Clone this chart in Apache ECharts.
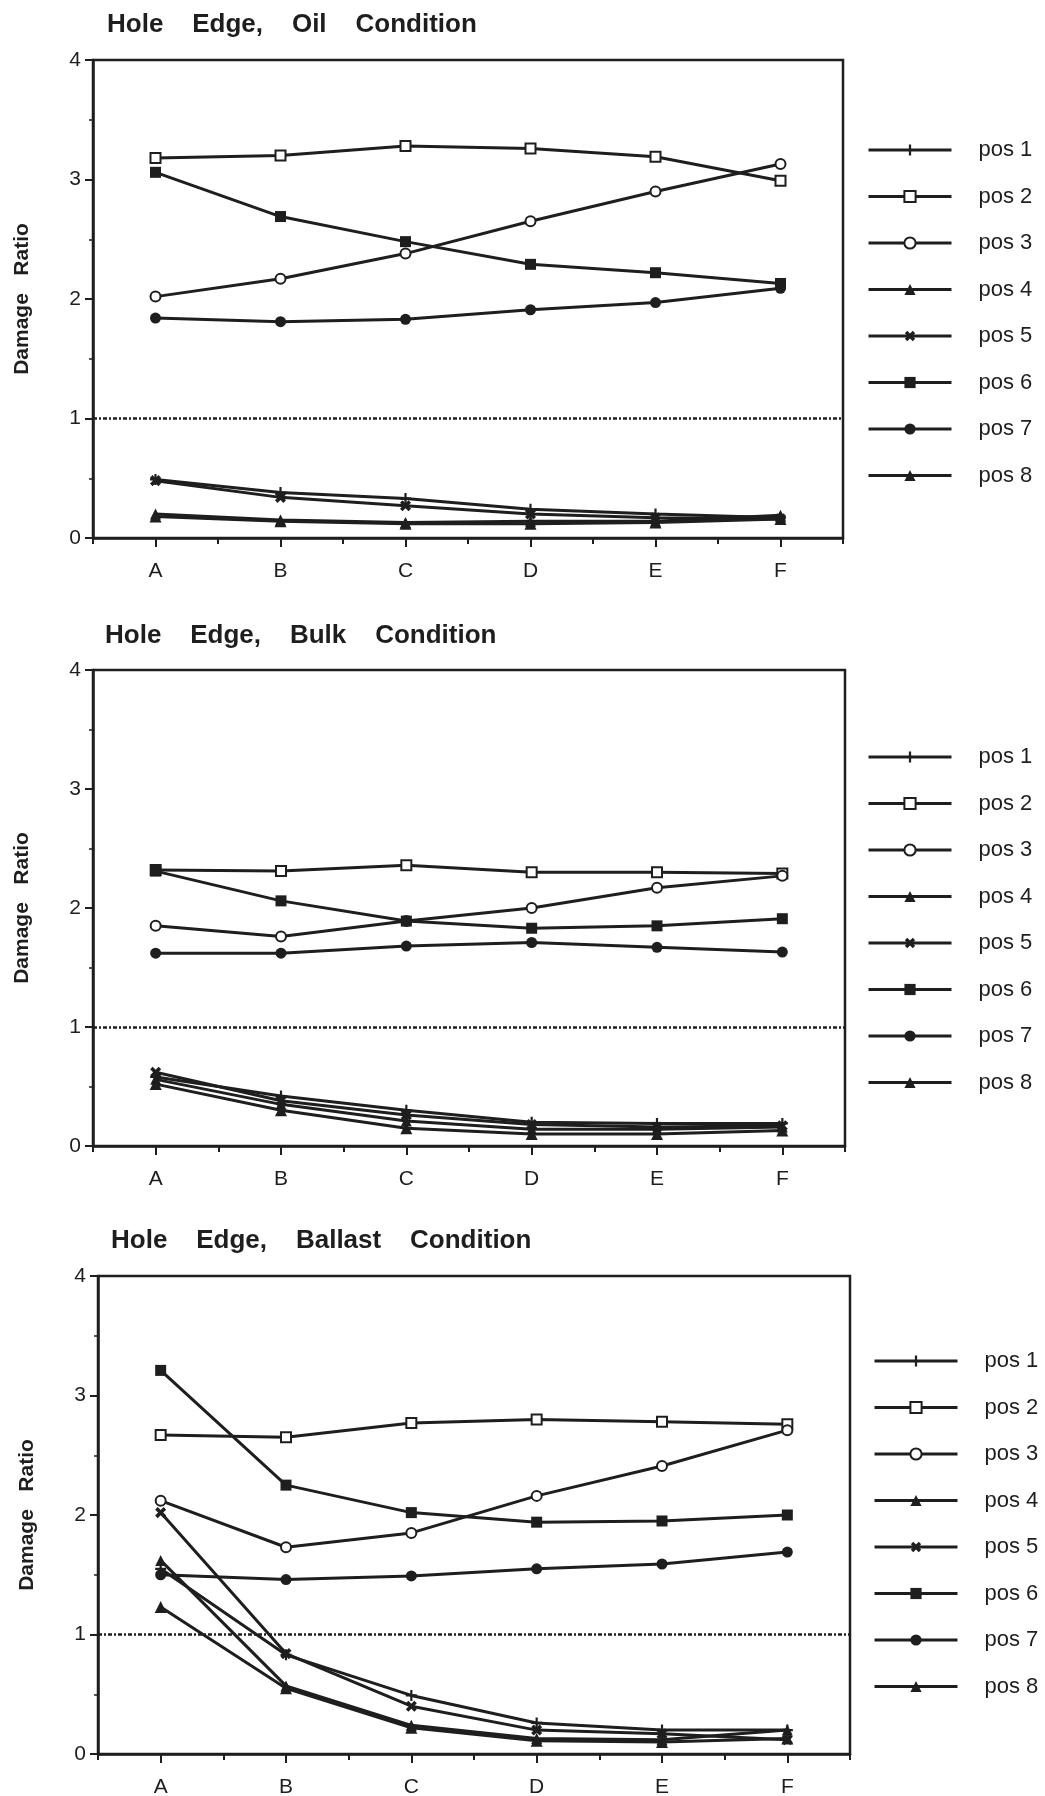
<!DOCTYPE html>
<html>
<head>
<meta charset="utf-8">
<title>Hole Edge Damage Ratio</title>
<script src="https://cdn.jsdelivr.net/npm/echarts@6/dist/echarts.min.js"></script>
<style>
  html, body { margin: 0; padding: 0; background: #fff; }
  #chart { width: 1045px; height: 1796px; }
</style>
</head>
<body>
<div id="chart"></div>
<script>
// --- data ---
const categories = ["A", "B", "C", "D", "E", "F"];
const seriesNames = ["pos 1", "pos 2", "pos 3", "pos 4", "pos 5", "pos 6", "pos 7", "pos 8"];
const yTicks = [0, 1, 2, 3, 4];
const thresholdValue = 1;

const oilValues = [
  [0.49, 0.38, 0.33, 0.24, 0.20, 0.17],
  [3.18, 3.20, 3.28, 3.26, 3.19, 2.99],
  [2.02, 2.17, 2.38, 2.65, 2.90, 3.13],
  [0.20, 0.15, 0.13, 0.14, 0.14, 0.19],
  [0.48, 0.34, 0.27, 0.20, 0.17, 0.16],
  [3.06, 2.69, 2.48, 2.29, 2.22, 2.13],
  [1.84, 1.81, 1.83, 1.91, 1.97, 2.09],
  [0.18, 0.14, 0.12, 0.12, 0.13, 0.16],
];
const bulkValues = [
  [0.58, 0.42, 0.30, 0.20, 0.19, 0.19],
  [2.32, 2.31, 2.36, 2.30, 2.30, 2.29],
  [1.85, 1.76, 1.89, 2.00, 2.17, 2.27],
  [0.56, 0.35, 0.21, 0.14, 0.14, 0.16],
  [0.62, 0.38, 0.26, 0.18, 0.16, 0.17],
  [2.31, 2.06, 1.89, 1.83, 1.85, 1.91],
  [1.62, 1.62, 1.68, 1.71, 1.67, 1.63],
  [0.52, 0.30, 0.15, 0.10, 0.10, 0.13],
];
const ballastValues = [
  [1.55, 0.83, 0.49, 0.26, 0.20, 0.20],
  [2.67, 2.65, 2.77, 2.80, 2.78, 2.76],
  [2.12, 1.73, 1.85, 2.16, 2.41, 2.71],
  [1.62, 0.57, 0.24, 0.13, 0.12, 0.20],
  [2.02, 0.84, 0.40, 0.20, 0.17, 0.12],
  [3.21, 2.25, 2.02, 1.94, 1.95, 2.00],
  [1.50, 1.46, 1.49, 1.55, 1.59, 1.69],
  [1.23, 0.55, 0.22, 0.11, 0.10, 0.13],
];
const panelTitles = [
  "Hole    Edge,    Oil    Condition",
  "Hole    Edge,    Bulk    Condition",
  "Hole    Edge,    Ballast    Condition",
];

// --- layout / style ---
const ink = "#1e1e1e";
const font = "'Liberation Sans', Arial, Helvetica, sans-serif";
const plusPath = "path://M4,0L6,0L6,4L10,4L10,6L6,6L6,10L4,10L4,6L0,6L0,4L4,4Z";
const crossPath = "path://M3.5,0L6.5,0L6.5,3.5L10,3.5L10,6.5L6.5,6.5L6.5,10L3.5,10L3.5,6.5L0,6.5L0,3.5L3.5,3.5Z";

const markers = [
  { symbol: plusPath, size: 11, rotate: 0, fill: ink, border: 0 },
  { symbol: "rect", size: 10, rotate: 0, fill: "#fff", border: 2 },
  { symbol: "circle", size: 10, rotate: 0, fill: "#fff", border: 2 },
  { symbol: "triangle", size: 11, rotate: 0, fill: ink, border: 0 },
  { symbol: crossPath, size: 12, rotate: 45, fill: ink, border: 0 },
  { symbol: "rect", size: 11, rotate: 0, fill: ink, border: 0 },
  { symbol: "circle", size: 11, rotate: 0, fill: ink, border: 0 },
  { symbol: "triangle", size: 12, rotate: 0, fill: ink, border: 0 },
];

const panels = [
  { values: oilValues, grid: { left: 93, top: 60, width: 750, height: 478 }, titleTop: 12, titleLeft: 107, legendLeft: 867, legendTop: 139 },
  { values: bulkValues, grid: { left: 93, top: 670, width: 752, height: 476 }, titleTop: 623, titleLeft: 105, legendLeft: 867, legendTop: 746 },
  { values: ballastValues, grid: { left: 98, top: 1276, width: 752, height: 478 }, titleTop: 1228, titleLeft: 111, legendLeft: 873, legendTop: 1350 },
];

const chart = echarts.init(document.getElementById("chart"), null, { renderer: "canvas" });

const grids = [], xAxes = [], yAxes = [], titles = [], legends = [], series = [];

panels.forEach((p, g) => {
  grids.push(Object.assign({
    show: true, borderColor: ink, borderWidth: 2.5, backgroundColor: "transparent",
    containLabel: false, outerBoundsMode: "none",
  }, p.grid));

  titles.push({
    text: panelTitles[g], left: p.titleLeft, top: p.titleTop, padding: 0,
    textStyle: { fontSize: 26, fontWeight: "bold", color: ink, fontFamily: font },
  });

  // category axis with ticks under each letter
  xAxes.push({
    type: "category", gridIndex: g, data: categories, boundaryGap: true,
    axisLine: { show: true, lineStyle: { color: ink, width: 2.5 } },
    axisTick: { show: true, alignWithLabel: true, interval: 0, length: 9, lineStyle: { color: ink, width: 2 } },
    axisLabel: { fontSize: 21, color: ink, margin: 23, fontFamily: font },
    splitLine: { show: false },
  });
  // same axis again, only for the ticks between letters
  xAxes.push({
    type: "category", gridIndex: g, data: categories, boundaryGap: true, position: "bottom",
    axisLine: { show: false },
    axisTick: { show: true, interval: 0, length: 6, lineStyle: { color: ink, width: 2 } },
    axisLabel: { show: false },
    splitLine: { show: false },
  });

  yAxes.push({
    type: "value", gridIndex: g, min: yTicks[0], max: yTicks[yTicks.length - 1], interval: 1,
    name: "Damage   Ratio", nameLocation: "middle", nameRotate: 90, nameGap: 60,
    nameTextStyle: { fontSize: 21, fontWeight: "bold", color: ink, fontFamily: font },
    axisLine: { show: true, lineStyle: { color: ink, width: 2.5 } },
    axisTick: { show: true, length: 8, lineStyle: { color: ink, width: 2 } },
    minorTick: { show: true, splitNumber: 2, length: 4, lineStyle: { color: ink, width: 1.5 } },
    axisLabel: { fontSize: 21, color: ink, margin: 12, fontFamily: font },
    splitLine: { show: false },
  });

  legends.push({
    orient: "vertical", left: p.legendLeft, top: p.legendTop, padding: 0,
    itemWidth: 83, itemHeight: 14, itemGap: 24.5, selectedMode: false,
    data: seriesNames,
    lineStyle: { color: ink, width: 3 },
    textStyle: { fontSize: 22, color: ink, fontFamily: font, padding: [0, 0, 0, 22] },
  });

  p.values.forEach((row, i) => {
    const m = markers[i];
    const s = {
      type: "line", name: seriesNames[i], xAxisIndex: g * 2, yAxisIndex: g,
      data: row, symbol: m.symbol, symbolSize: m.size, symbolRotate: m.rotate,
      showAllSymbol: true,
      lineStyle: { color: ink, width: 3 },
      itemStyle: { color: m.fill, borderColor: ink, borderWidth: m.border },
      emphasis: { disabled: true },
      z: 3,
    };
    if (i === 0) {
      s.markLine = {
        silent: true, symbol: ["none", "none"], label: { show: false },
        lineStyle: { color: ink, width: 2.5, type: [4, 2, 2, 2] },
        emphasis: { disabled: true },
        data: [{ yAxis: thresholdValue }],
      };
    }
    series.push(s);
  });
});

chart.setOption({
  animation: false,
  backgroundColor: "#fff",
  textStyle: { fontFamily: font },
  title: titles,
  grid: grids,
  xAxis: xAxes,
  yAxis: yAxes,
  legend: legends,
  series: series,
});
</script>
</body>
</html>
